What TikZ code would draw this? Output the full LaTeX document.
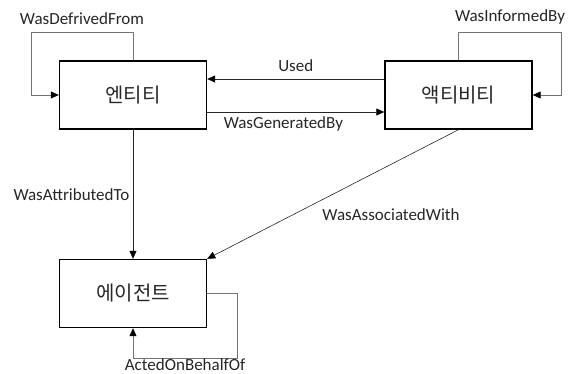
\documentclass[tikz,border=0pt]{standalone}
\usepackage{fontspec}
\setmainfont{Carlito}
\newfontfamily\kofont{Noto Sans CJK KR}
\usetikzlibrary{arrows.meta}

\begin{document}
\begin{tikzpicture}[
  x=1pt, y=-1pt,
  every node/.style={font=\fontsize{17}{20}\selectfont, text=black!85},
  box/.style={draw=black, line width=1.4pt, minimum width=147pt, minimum height=68pt,
    font=\kofont\fontsize{20}{24}\selectfont},
  rel/.style={-{Triangle[length=8pt,width=7pt,black]}, line width=0.6pt, black!85},
  selfrel/.style={rel, draw=black!55}
]
  \useasboundingbox (0,0) rectangle (571,374);

  \node[box] (entity) at (133,95) {엔티티};
  \node[box] (activity) at (458.5,95) {액티비티};
  \node[box] (agent) at (133,293.5) {에이전트};

  % between entity and activity
  \draw[rel] ([yshift=16pt]activity.west) -- node[above=4pt] (used) {Used} ([yshift=16pt]entity.east);
  \draw[rel] ([yshift=-17pt]entity.east) -- node[below=1pt, pos=0.43] (generated) {WasGeneratedBy} ([yshift=-17pt]activity.west);

  % towards the agent
  \draw[rel] (entity.south) -- node[left=0pt] (attributed) {WasAttributedTo} (agent.north);
  \draw[rel] (activity.south) -- node[pos=0.5, anchor=north west, xshift=-14pt, yshift=-11pt] (associated) {WasAssociatedWith} (agent.north east);

  % self loops
  \draw[selfrel] (entity.north) -- ++(0,-28) -- node[above=4pt] (derived) {WasDefrivedFrom} ++(-102,0) |- (entity.west);
  \draw[selfrel] (activity.north) -- ++(0,-28) -- node[above=4pt] (informed) {WasInformedBy} ++(103,0) |- (activity.east);
  \draw[selfrel] (agent.east) -- ++(30,0) |- node[pos=0.75, anchor=north, inner sep=0pt] (behalf) {ActedOnBehalfOf} ([yshift=-30pt]agent.south) -- (agent.south);
\end{tikzpicture}
\end{document}
